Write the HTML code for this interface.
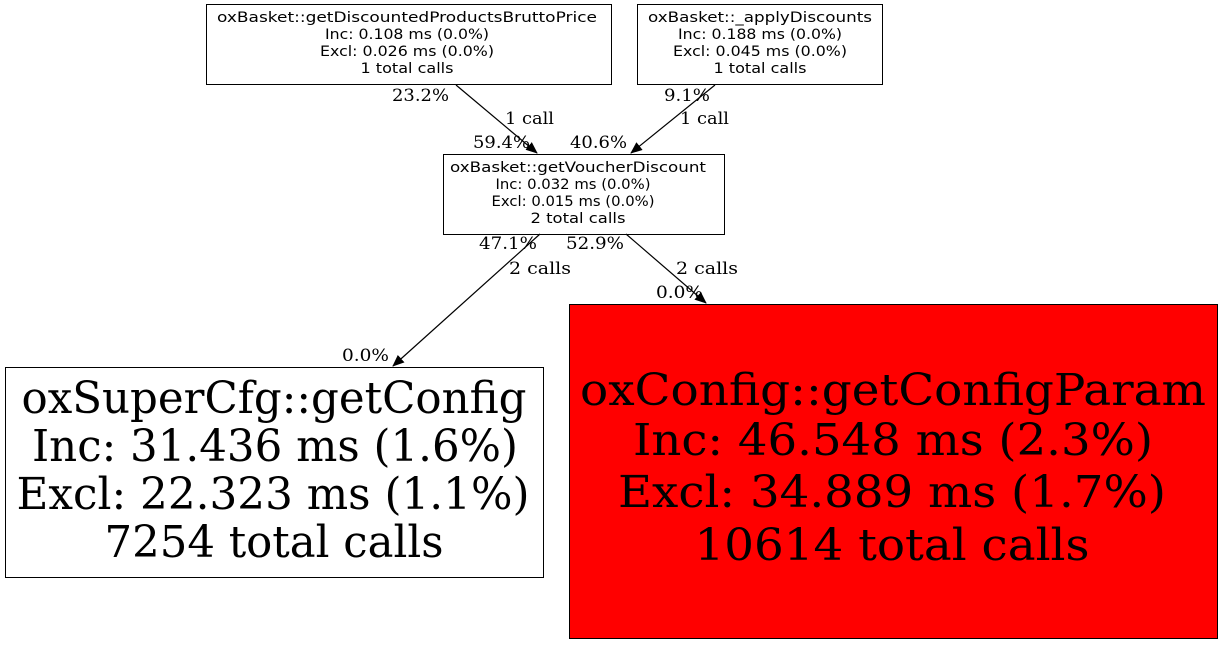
<!DOCTYPE html>
<html><head><meta charset="utf-8"><style>
html,body{margin:0;padding:0;background:#fff;width:1223px;height:645px;overflow:hidden}
.s{font-family:"DejaVu Sans","Liberation Sans",sans-serif;font-size:14.5px}
.l{font-family:"DejaVu Serif","Liberation Serif",serif;font-size:17px}
.b{font-family:"DejaVu Serif","Liberation Serif",serif;font-size:44px}
</style></head><body>
<svg width="1223" height="645" xmlns="http://www.w3.org/2000/svg">
<defs><marker id="a" markerWidth="12" markerHeight="10" refX="11" refY="5" orient="auto" markerUnits="userSpaceOnUse"><path d="M0,0 L12,5 L0,10 z" fill="#000"/></marker></defs>
<rect x="206.5" y="4.5" width="405" height="80" fill="#fff" stroke="#000"/>
<g class="s" text-anchor="middle">
<text x="407" y="22" textLength="380" lengthAdjust="spacingAndGlyphs">oxBasket::getDiscountedProductsBruttoPrice</text>
<text x="407" y="39" textLength="164" lengthAdjust="spacingAndGlyphs">Inc: 0.108 ms (0.0%)</text>
<text x="407" y="56" textLength="174" lengthAdjust="spacingAndGlyphs">Excl: 0.026 ms (0.0%)</text>
<text x="407" y="73" textLength="93" lengthAdjust="spacingAndGlyphs">1 total calls</text>
</g>
<rect x="637.5" y="4.5" width="245" height="80" fill="#fff" stroke="#000"/>
<g class="s" text-anchor="middle">
<text x="760" y="22" textLength="224" lengthAdjust="spacingAndGlyphs">oxBasket::_applyDiscounts</text>
<text x="760" y="39" textLength="164" lengthAdjust="spacingAndGlyphs">Inc: 0.188 ms (0.0%)</text>
<text x="760" y="56" textLength="174" lengthAdjust="spacingAndGlyphs">Excl: 0.045 ms (0.0%)</text>
<text x="760" y="73" textLength="93" lengthAdjust="spacingAndGlyphs">1 total calls</text>
</g>
<rect x="443.5" y="154.5" width="281" height="80" fill="#fff" stroke="#000"/>
<g class="s" text-anchor="middle">
<text x="578" y="172" textLength="256" lengthAdjust="spacingAndGlyphs">oxBasket::getVoucherDiscount</text>
<text x="573" y="189" textLength="155" lengthAdjust="spacingAndGlyphs">Inc: 0.032 ms (0.0%)</text>
<text x="573" y="206" textLength="163" lengthAdjust="spacingAndGlyphs">Excl: 0.015 ms (0.0%)</text>
<text x="578" y="223" textLength="95" lengthAdjust="spacingAndGlyphs">2 total calls</text>
</g>
<rect x="5.5" y="367.5" width="538" height="210" fill="#fff" stroke="#000"/>
<g class="b" text-anchor="middle">
<text x="274" y="413" textLength="505" lengthAdjust="spacingAndGlyphs">oxSuperCfg::getConfig</text>
<text x="275" y="461" textLength="486" lengthAdjust="spacingAndGlyphs">Inc: 31.436 ms (1.6%)</text>
<text x="273" y="509" textLength="513" lengthAdjust="spacingAndGlyphs">Excl: 22.323 ms (1.1%)</text>
<text x="274" y="557" textLength="339" lengthAdjust="spacingAndGlyphs">7254 total calls</text>
</g>
<rect x="569.5" y="304.5" width="648" height="334" fill="#f00" stroke="#000"/>
<g class="b" text-anchor="middle">
<text x="893" y="405" textLength="626" lengthAdjust="spacingAndGlyphs">oxConfig::getConfigParam</text>
<text x="893" y="455" textLength="520" lengthAdjust="spacingAndGlyphs">Inc: 46.548 ms (2.3%)</text>
<text x="892" y="507" textLength="548" lengthAdjust="spacingAndGlyphs">Excl: 34.889 ms (1.7%)</text>
<text x="892" y="560" textLength="395" lengthAdjust="spacingAndGlyphs">10614 total calls</text>
</g>
<g stroke="#000" stroke-width="1.2" fill="none">
<line x1="456" y1="85" x2="537" y2="153" marker-end="url(#a)"/>
<line x1="715" y1="85" x2="631" y2="153" marker-end="url(#a)"/>
<line x1="540" y1="234" x2="393" y2="366" marker-end="url(#a)"/>
<line x1="626" y1="234" x2="706" y2="303" marker-end="url(#a)"/>
</g>
<g class="l">
<text x="392" y="101" textLength="57" lengthAdjust="spacingAndGlyphs">23.2%</text>
<text x="505" y="124" textLength="49" lengthAdjust="spacingAndGlyphs">1 call</text>
<text x="473" y="148" textLength="57" lengthAdjust="spacingAndGlyphs">59.4%</text>
<text x="570" y="148" textLength="57" lengthAdjust="spacingAndGlyphs">40.6%</text>
<text x="664" y="101" textLength="46" lengthAdjust="spacingAndGlyphs">9.1%</text>
<text x="680" y="124" textLength="49" lengthAdjust="spacingAndGlyphs">1 call</text>
<text x="479" y="249" textLength="58" lengthAdjust="spacingAndGlyphs">47.1%</text>
<text x="566" y="249" textLength="58" lengthAdjust="spacingAndGlyphs">52.9%</text>
<text x="509" y="274" textLength="62" lengthAdjust="spacingAndGlyphs">2 calls</text>
<text x="676" y="274" textLength="62" lengthAdjust="spacingAndGlyphs">2 calls</text>
<text x="342" y="361" textLength="47" lengthAdjust="spacingAndGlyphs">0.0%</text>
<text x="656" y="298" textLength="47" lengthAdjust="spacingAndGlyphs">0.0%</text>
</g>
</svg>
</body></html>
